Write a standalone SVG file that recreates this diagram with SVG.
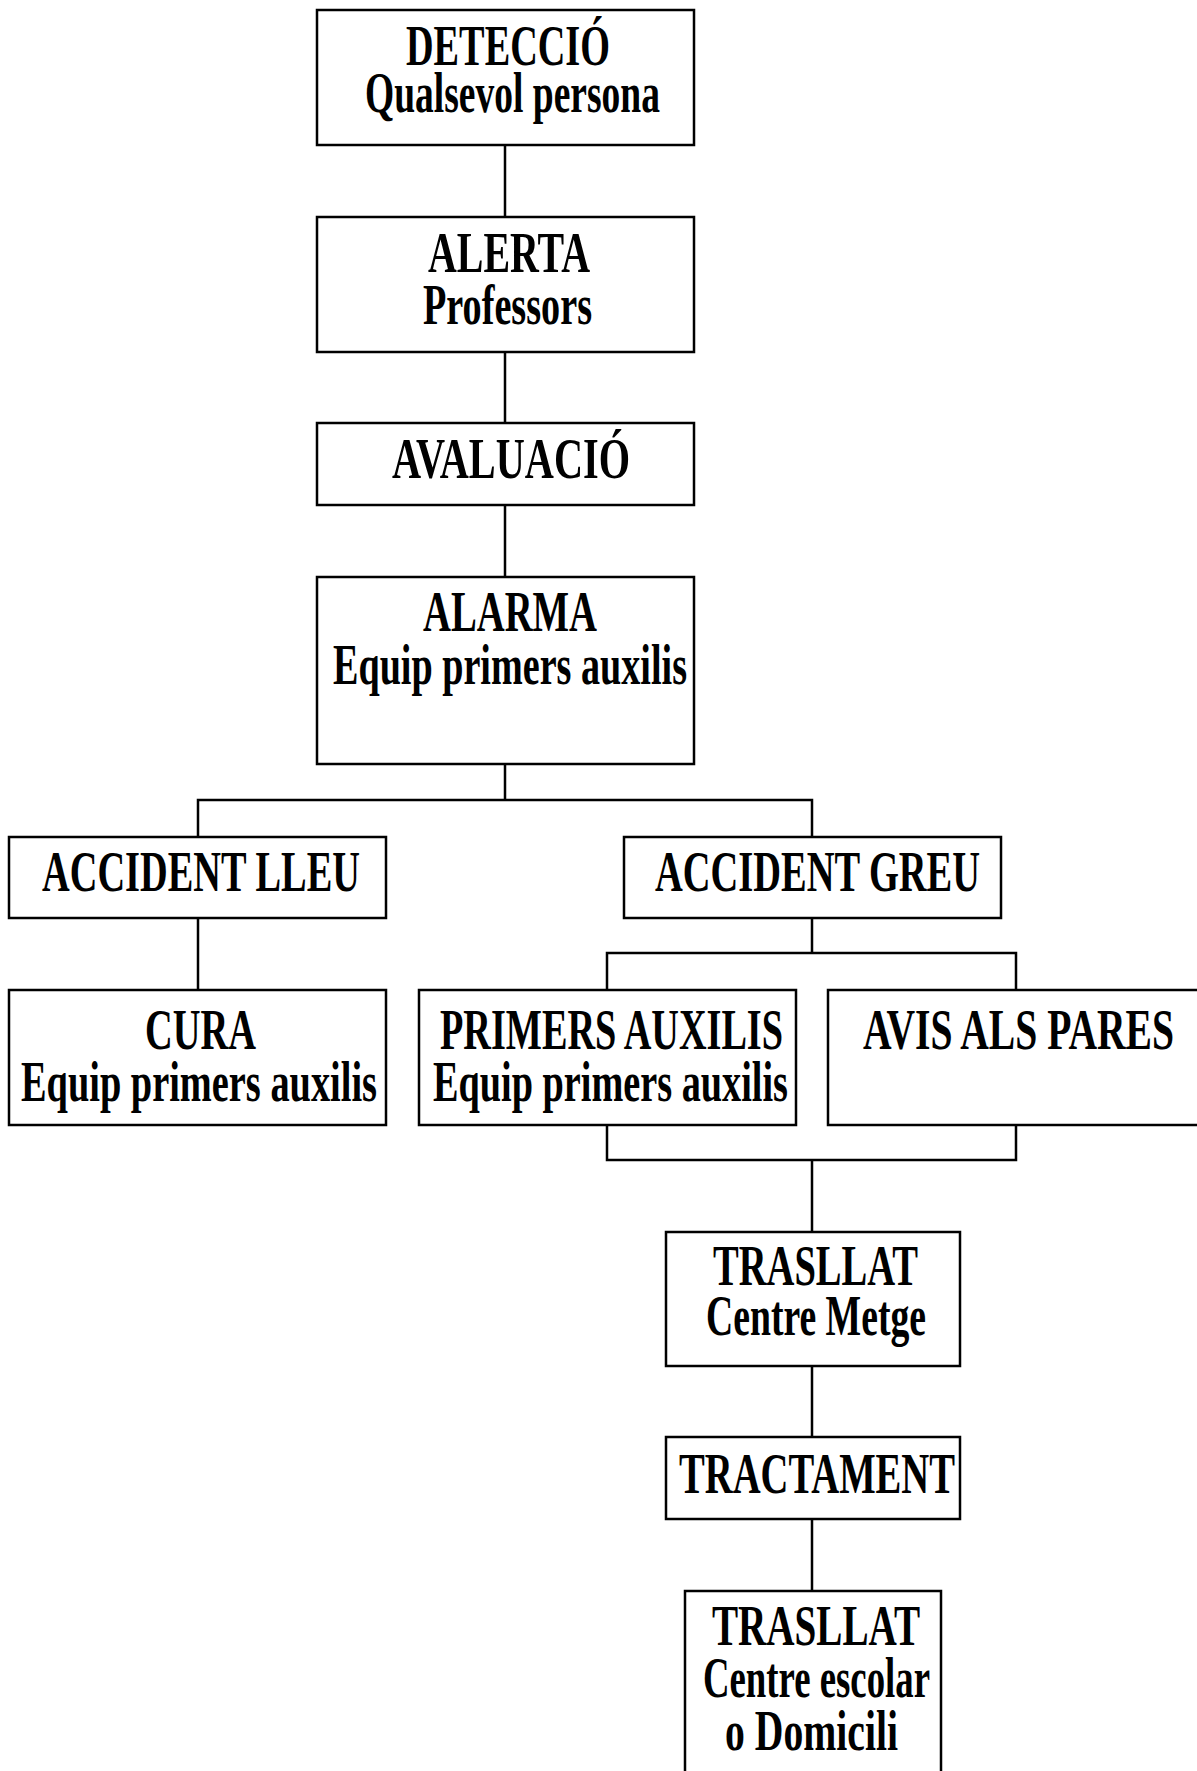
<svg xmlns="http://www.w3.org/2000/svg" width="1197" height="1771" viewBox="0 0 1197 1771">
<style>
  .box { fill: #ffffff; stroke: #000000; stroke-width: 2.5; }
  .conn { fill: none; stroke: #000000; stroke-width: 2.5; }
  text { font-family: "Liberation Serif", "Times New Roman", serif; font-weight: bold; font-size: 58px; fill: #000000; }
</style>
<rect x="0" y="0" width="1197" height="1771" fill="#ffffff"/>
<g id="connectors">
  <path class="conn" d="M505,145 V217 M505,352 V423 M505,505 V577 M505,764 V800"/>
  <path class="conn" d="M198,837 V800 H812 V837"/>
  <path class="conn" d="M198,918 V990"/>
  <path class="conn" d="M812,918 V953 M607,990 V953 H1016 V990"/>
  <path class="conn" d="M607,1125 V1160 H1016 V1125 M812,1160 V1232"/>
  <path class="conn" d="M812,1366 V1437 M812,1519 V1591"/>
</g>
<g id="deteccio">
  <rect class="box" x="317" y="10" width="377" height="135"/>
  <text x="406" y="65" textLength="204" lengthAdjust="spacingAndGlyphs">DETECCIÓ</text>
  <text x="365" y="112" textLength="295" lengthAdjust="spacingAndGlyphs">Qualsevol persona</text>
</g>
<g id="alerta">
  <rect class="box" x="317" y="217" width="377" height="135"/>
  <text x="428" y="272" textLength="162" lengthAdjust="spacingAndGlyphs">ALERTA</text>
  <text x="423" y="324" textLength="169" lengthAdjust="spacingAndGlyphs">Professors</text>
</g>
<g id="avaluacio">
  <rect class="box" x="317" y="423" width="377" height="82"/>
  <text x="392" y="478" textLength="238" lengthAdjust="spacingAndGlyphs">AVALUACIÓ</text>
</g>
<g id="alarma">
  <rect class="box" x="317" y="577" width="377" height="187"/>
  <text x="423" y="631" textLength="174" lengthAdjust="spacingAndGlyphs">ALARMA</text>
  <text x="333" y="684" textLength="354" lengthAdjust="spacingAndGlyphs">Equip primers auxilis</text>
</g>
<g id="accident-lleu">
  <rect class="box" x="9" y="837" width="377" height="81"/>
  <text x="42" y="891" textLength="318" lengthAdjust="spacingAndGlyphs">ACCIDENT LLEU</text>
</g>
<g id="accident-greu">
  <rect class="box" x="624" y="837" width="377" height="81"/>
  <text x="655" y="891" textLength="325" lengthAdjust="spacingAndGlyphs">ACCIDENT GREU</text>
</g>
<g id="cura">
  <rect class="box" x="9" y="990" width="377" height="135"/>
  <text x="145" y="1049" textLength="111" lengthAdjust="spacingAndGlyphs">CURA</text>
  <text x="21" y="1101" textLength="356" lengthAdjust="spacingAndGlyphs">Equip primers auxilis</text>
</g>
<g id="primers-auxilis">
  <rect class="box" x="419" y="990" width="377" height="135"/>
  <text x="440" y="1049" textLength="343" lengthAdjust="spacingAndGlyphs">PRIMERS AUXILIS</text>
  <text x="433" y="1101" textLength="355" lengthAdjust="spacingAndGlyphs">Equip primers auxilis</text>
</g>
<g id="avis-pares">
  <rect class="box" x="828" y="990" width="400" height="135"/>
  <text x="863" y="1049" textLength="311" lengthAdjust="spacingAndGlyphs">AVIS ALS PARES</text>
</g>
<g id="trasllat-metge">
  <rect class="box" x="666" y="1232" width="294" height="134"/>
  <text x="713" y="1285" textLength="205" lengthAdjust="spacingAndGlyphs">TRASLLAT</text>
  <text x="706" y="1335" textLength="220" lengthAdjust="spacingAndGlyphs">Centre Metge</text>
</g>
<g id="tractament">
  <rect class="box" x="666" y="1437" width="294" height="82"/>
  <text x="679" y="1493" textLength="276" lengthAdjust="spacingAndGlyphs">TRACTAMENT</text>
</g>
<g id="trasllat-escolar">
  <rect class="box" x="685" y="1591" width="256" height="220"/>
  <text x="712" y="1645" textLength="208" lengthAdjust="spacingAndGlyphs">TRASLLAT</text>
  <text x="703" y="1697" textLength="227" lengthAdjust="spacingAndGlyphs">Centre escolar</text>
  <text x="725" y="1750" textLength="173" lengthAdjust="spacingAndGlyphs">o Domicili</text>
</g>
</svg>
